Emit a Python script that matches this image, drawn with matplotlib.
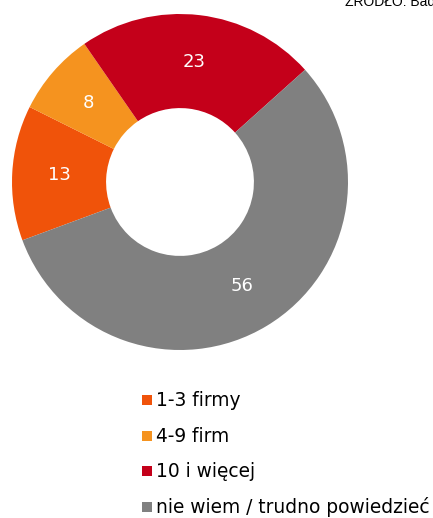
import numpy as np
import matplotlib
matplotlib.use('Agg')
import matplotlib.pyplot as plt
from matplotlib.patches import Rectangle

# data
labels = ['1-3 firmy', '4-9 firm', '10 i więcej', 'nie wiem / trudno powiedzieć']
values = [13, 8, 23, 56]
colors = ['#F0530A', '#F5931F', '#C4001A', '#808080']
source = 'ŹRÓDŁO: Bad'

plt.rcParams['font.family'] = ['DejaVu Sans']

W, H = 433, 518
fig = plt.figure(figsize=(W / 100, H / 100), dpi=100)

cx, cy, r = 180, 182, 168
ax = fig.add_axes([(cx - r) / W, (H - cy - r) / H, 2 * r / W, 2 * r / H])
wedges, _ = ax.pie(values, colors=colors, startangle=200.3, counterclock=False,
                   radius=1.0, wedgeprops=dict(width=0.56, edgecolor='none'))
ax.set_xlim(-1, 1)
ax.set_ylim(-1, 1)
ax.set_aspect('equal')
ax.axis('off')

# value labels in the middle of the ring
lab_r = 1.0 - 0.56 / 2
for w, v in zip(wedges, values):
    ang = np.deg2rad((w.theta1 + w.theta2) / 2)
    ax.text(lab_r * np.cos(ang), lab_r * np.sin(ang), str(v), color='white',
            fontsize=13, ha='center', va='center')

# source note, cut by the top/right edges as in the original
fig.text(345 / W, 1 - 6 / H, source, fontsize=10, family='Liberation Sans',
         ha='left', va='baseline')

# legend drawn by hand so the rows are evenly spaced
y0, step, sq = 400, 35.6, 10
for i, (lab, c) in enumerate(zip(labels, colors)):
    yc = y0 + i * step
    fig.patches.append(Rectangle((142 / W, 1 - (yc + sq / 2) / H), sq / W, sq / H,
                                 transform=fig.transFigure, facecolor=c,
                                 edgecolor='none'))
    fig.text(156 / W, 1 - (yc + 6) / H, lab, fontsize=13.4, ha='left',
             va='baseline')

fig.savefig('out.png', dpi=100)
